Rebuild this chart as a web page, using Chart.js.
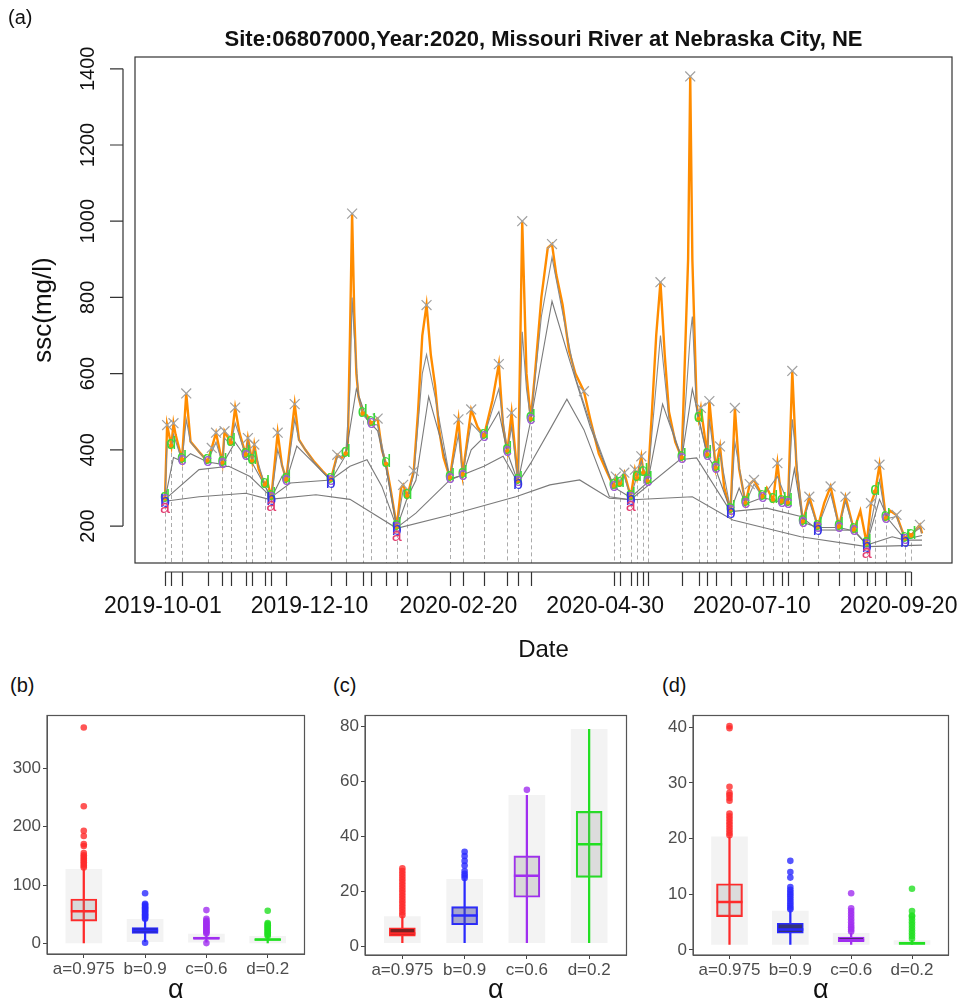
<!DOCTYPE html>
<html>
<head>
<meta charset="utf-8">
<script src="https://cdn.jsdelivr.net/npm/chart.js@4.4.1/dist/chart.umd.min.js"></script>
<style>
  body { margin: 0; background: #fff; font-family: "Liberation Sans", Arial, sans-serif; }
  #wrap { position: relative; width: 964px; height: 1001px; }
  canvas { position: absolute; }
  .tag { position: absolute; font-size: 20px; color: #111; }
</style>
</head>
<body>
<div id="wrap">
  <canvas id="a" width="964" height="670" style="left:0;top:0"></canvas>
  <canvas id="pb" width="320" height="301" style="left:0;top:700px"></canvas>
  <canvas id="pc" width="322" height="301" style="left:320px;top:700px"></canvas>
  <canvas id="pd" width="322" height="301" style="left:642px;top:700px"></canvas>
  <div class="tag" style="left:8px;top:6px">(a)</div>
  <div class="tag" style="left:10px;top:674px">(b)</div>
  <div class="tag" style="left:333px;top:674px">(c)</div>
  <div class="tag" style="left:662px;top:674px">(d)</div>
</div>
<script>
const FONT = '"Liberation Sans", Arial, sans-serif'

// ---- panel (a): daily ssc, days counted from 2019-10-01 ----
const mainTitle = 'Site:06807000,Year:2020, Missouri River at Nebraska City, NE'
const mainYTicks = [200, 400, 600, 800, 1000, 1200, 1400]
const dateLabels = ['2019-10-01', '2019-12-10', '2020-02-20', '2020-04-30', '2020-07-10', '2020-09-20']
// where the original figure puts its date labels (in day units)
const dateDays = [-1, 68, 138, 207, 276, 345]

const ssc = [[0,272],[1,465],[3,410],[4,470],[5,440],[8,374],[10,548],[12,422],[16,395],[20,370],[22,405],[24,445],[27,365],[28,449],[31,418],[33,511],[35,445],[38,387],[39,431],[41,370],[42,414],[44,350],[47,308],[48,320],[50,275],[53,445],[55,360],[57,322],[61,520],[63,427],[66,400],[70,370],[74,345],[78,322],[80,365],[81,387],[83,378],[85,390],[86,420],[87,700],[88,1020],[89,760],[90,600],[91,540],[93,495],[95,490],[97,470],[100,482],[102,400],[104,362],[106,300],[109,198],[111,300],[112,308],[114,278],[117,345],[119,500],[121,700],[123,780],[125,650],[127,570],[129,450],[131,380],[134,326],[138,480],[140,335],[144,506],[147,460],[150,436],[154,530],[157,625],[159,460],[161,396],[163,497],[166,318],[167,650],[168,1000],[169,800],[170,600],[172,480],[174,600],[177,800],[180,930],[182,940],[184,860],[187,780],[190,660],[193,600],[197,554],[200,480],[204,390],[208,340],[211,304],[212,330],[214,310],[216,340],[219,277],[221,348],[222,325],[224,383],[225,340],[227,317],[229,500],[231,700],[233,840],[235,650],[237,500],[240,420],[243,379],[246,900],[247,1380],[248,900],[250,520],[251,480],[252,510],[255,387],[256,528],[259,352],[261,409],[263,300],[266,242],[268,510],[270,350],[273,260],[275,310],[277,321],[279,300],[281,277],[283,300],[286,268],[288,365],[290,264],[291,275],[293,260],[295,607],[297,350],[300,211],[303,277],[307,198],[310,260],[313,304],[317,198],[320,277],[324,189],[327,240],[330,154],[332,260],[334,290],[336,361],[339,220],[341,240],[344,229],[348,167],[350,180],[351,175],[353,190],[355,203],[356,181]]

// baseflow-like curves for each alpha (d = 0.2 closest to ssc, a = 0.975 smoothest)
const curveD = [[0,270],[1,420],[3,405],[4,440],[8,372],[10,480],[12,420],[20,369],[24,420],[27,364],[28,430],[31,415],[33,470],[38,385],[39,420],[41,368],[42,400],[47,306],[50,274],[53,400],[57,320],[61,480],[63,425],[70,368],[78,320],[81,380],[85,388],[87,560],[88,800],[89,700],[91,540],[93,492],[97,468],[100,465],[104,360],[109,197],[112,295],[114,276],[117,335],[121,600],[123,650],[127,540],[134,325],[138,440],[140,334],[144,470],[150,434],[157,560],[161,394],[163,460],[166,316],[168,710],[170,560],[172,478],[177,750],[182,905],[187,760],[193,590],[200,470],[211,303],[216,330],[219,276],[224,370],[227,316],[233,700],[237,480],[243,378],[247,700],[248,750],[250,500],[251,478],[255,386],[256,480],[259,350],[261,390],[266,241],[268,420],[273,259],[277,310],[281,276],[288,330],[293,259],[295,480],[300,210],[303,265],[307,197],[313,285],[317,197],[320,265],[324,188],[330,153],[336,320],[339,219],[344,225],[348,166],[355,195],[356,180]]
const curveC = [[0,270],[4,380],[8,370],[12,390],[20,368],[27,362],[33,420],[38,380],[41,366],[47,305],[50,273],[55,330],[57,318],[62,410],[70,365],[78,319],[85,386],[90,560],[95,480],[100,450],[104,350],[109,196],[114,275],[118,320],[124,540],[130,420],[134,324],[140,333],[144,400],[150,433],[157,500],[161,393],[166,315],[172,477],[182,790],[190,640],[200,460],[211,302],[219,275],[227,315],[234,520],[243,377],[248,560],[255,385],[259,349],[266,240],[270,300],[273,258],[281,275],[293,258],[296,350],[300,210],[307,196],[317,196],[324,187],[330,152],[336,270],[340,219],[348,165],[356,175]]
const curveB = [[0,270],[16,348],[30,357],[40,330],[50,276],[59,313],[78,321],[87,357],[95,374],[102,304],[109,196],[118,234],[134,321],[150,357],[159,383],[166,313],[172,365],[181,453],[189,533],[197,453],[209,277],[219,269],[242,374],[250,379],[266,238],[283,247],[299,225],[307,190],[324,189],[330,150],[342,172],[348,163],[356,163]]
const curveA = [[0,265],[16,277],[38,286],[49,270],[71,282],[87,270],[109,194],[134,229],[165,277],[181,308],[195,321],[209,273],[220,269],[248,277],[267,216],[299,172],[330,146],[356,150]]

const peaks = [[1,465],[4,470],[10,548],[22,405],[24,445],[28,449],[33,511],[39,431],[42,414],[53,445],[61,520],[81,387],[88,1020],[100,482],[112,308],[117,345],[123,780],[138,480],[144,506],[157,625],[163,497],[168,1000],[182,940],[197,554],[212,330],[216,340],[221,348],[224,383],[233,840],[247,1380],[252,510],[256,528],[261,409],[268,510],[275,310],[277,321],[288,365],[295,607],[303,277],[313,304],[320,277],[332,260],[336,361],[344,229],[355,203]]

// trough events: day, ssc, lowest alpha letter reached
const troughs = [[0,272,'a'],[3,410,'d'],[8,374,'c'],[20,370,'c'],[27,365,'c'],[31,418,'d'],[38,387,'c'],[41,370,'d'],[47,308,'d'],[50,275,'a'],[57,322,'c'],[78,322,'b'],[85,390,'d'],[93,495,'d'],[97,470,'c'],[104,362,'d'],[109,198,'a'],[114,278,'d'],[134,326,'c'],[140,335,'c'],[150,436,'c'],[161,396,'c'],[166,318,'b'],[172,480,'c'],[211,304,'c'],[214,310,'d'],[219,277,'a'],[222,325,'d'],[225,340,'d'],[227,317,'c'],[243,379,'c'],[251,480,'d'],[255,387,'c'],[259,352,'c'],[266,242,'b'],[273,260,'c'],[281,277,'c'],[286,268,'d'],[290,264,'c'],[293,260,'c'],[300,211,'c'],[307,198,'b'],[317,198,'c'],[324,189,'c'],[330,154,'a'],[334,290,'d'],[339,220,'c'],[348,167,'b'],[351,175,'d']]

const letterColors = { a: '#e23a6e', b: '#3434e6', c: '#9d5fd4', d: '#3ad83a' }
const letterShift = { a: 9, b: 3, c: 0, d: -2 }
const levels = ['a', 'b', 'c', 'd']

const xy = (arr) => arr.map(([x, y]) => ({ x, y }))

const rStyle = {
  id: 'rStyle',
  beforeDatasetsDraw(chart) {
    const { ctx, chartArea: area, scales: { x, y } } = chart
    ctx.save()
    ctx.strokeStyle = '#ababab'
    ctx.lineWidth = 1
    ctx.setLineDash([4, 3])
    troughs.forEach(([d, v]) => {
      const px = Math.round(x.getPixelForValue(d)) + 0.5
      ctx.beginPath()
      ctx.moveTo(px, y.getPixelForValue(v) + 7)
      ctx.lineTo(px, area.bottom)
      ctx.stroke()
    })
    ctx.restore()
  },
  afterDatasetsDraw(chart) {
    const { ctx, scales: { x, y } } = chart
    ctx.save()
    ctx.font = '18px ' + FONT
    ctx.textAlign = 'center'
    ctx.textBaseline = 'middle'
    troughs.forEach(([d, v, lvl]) => {
      const px = x.getPixelForValue(d)
      const py = y.getPixelForValue(v)
      levels.slice(levels.indexOf(lvl)).reverse().forEach(l => {
        ctx.fillStyle = letterColors[l]
        ctx.fillText(l, px, py + letterShift[l])
      })
    })
    ctx.restore()
  },
  afterDraw(chart) {
    const { ctx, chartArea: area, scales: { x, y } } = chart
    ctx.save()
    ctx.strokeStyle = '#333'
    ctx.lineWidth = 1.2
    ctx.strokeRect(area.left, area.top, area.right - area.left, area.bottom - area.top)

    // left axis, R style (detached from the box)
    const ax = area.left - 12
    ctx.beginPath()
    ctx.moveTo(ax, y.getPixelForValue(mainYTicks[0]))
    ctx.lineTo(ax, y.getPixelForValue(mainYTicks[mainYTicks.length - 1]))
    mainYTicks.forEach(v => {
      const py = y.getPixelForValue(v)
      ctx.moveTo(ax, py)
      ctx.lineTo(ax - 13, py)
    })
    ctx.stroke()
    ctx.fillStyle = '#111'
    ctx.font = '20px ' + FONT
    ctx.textAlign = 'center'
    ctx.textBaseline = 'middle'
    mainYTicks.forEach(v => {
      ctx.save()
      ctx.translate(88, y.getPixelForValue(v))
      ctx.rotate(-Math.PI / 2)
      ctx.fillText(String(v), 0, 0)
      ctx.restore()
    })
    ctx.save()
    ctx.translate(44, (area.top + area.bottom) / 2)
    ctx.rotate(-Math.PI / 2)
    ctx.font = '26px ' + FONT
    ctx.fillText('ssc(mg/l)', 0, 0)
    ctx.restore()

    // rug of event dates
    const ry = area.bottom + 9
    const days = troughs.map(t => t[0])
    ctx.beginPath()
    ctx.moveTo(x.getPixelForValue(days[0]), ry)
    ctx.lineTo(x.getPixelForValue(days[days.length - 1]), ry)
    days.forEach(d => {
      const px = Math.round(x.getPixelForValue(d)) + 0.5
      ctx.moveTo(px, ry)
      ctx.lineTo(px, ry + 14)
    })
    ctx.stroke()

    ctx.font = '23px ' + FONT
    dateLabels.forEach((lab, i) => ctx.fillText(lab, x.getPixelForValue(dateDays[i]), 607))
    ctx.font = '24px ' + FONT
    ctx.fillText('Date', (area.left + area.right) / 2, 650)

    ctx.font = 'bold 22px ' + FONT
    ctx.fillText(mainTitle, (area.left + area.right) / 2, 40)
    ctx.restore()
  }
}

new Chart(document.getElementById('a'), {
  type: 'line',
  data: {
    datasets: [
      { data: xy(peaks), showLine: false, pointStyle: 'crossRot', pointRadius: 7, borderColor: '#a0a0a0', borderWidth: 1.2, order: 1 },
      { data: xy(troughs.map(t => [t[0], t[1]])), showLine: false, pointRadius: 2.5, backgroundColor: '#ff8c00', borderWidth: 0, order: 2 },
      { data: xy(curveA), borderColor: '#7a7a7a', borderWidth: 1.1, pointRadius: 0, order: 3 },
      { data: xy(curveB), borderColor: '#7a7a7a', borderWidth: 1.1, pointRadius: 0, order: 3 },
      { data: xy(curveC), borderColor: '#7a7a7a', borderWidth: 1.1, pointRadius: 0, order: 3 },
      { data: xy(curveD), borderColor: '#8a8a8a', borderWidth: 1.1, pointRadius: 0, order: 3 },
      { data: xy(ssc), borderColor: '#ff8c00', borderWidth: 2.4, pointRadius: 0, order: 6 }
    ]
  },
  options: {
    responsive: false,
    animation: false,
    layout: { padding: { left: 135, top: 57, right: 12, bottom: 107 } },
    plugins: { legend: { display: false }, tooltip: { enabled: false } },
    scales: {
      x: { type: 'linear', min: -14.1, max: 370.1, display: false },
      y: { type: 'linear', min: 103, max: 1431, display: false }
    }
  },
  plugins: [rStyle]
})

// ---- panels (b)-(d): boxplots by alpha ----
const alphaCats = ['a=0.975', 'b=0.9', 'c=0.6', 'd=0.2']
const alphaColors = ['#ff2a2a', '#2a2aff', '#a02ef0', '#22e022']

const bTicks = [0, 100, 200, 300]
const bQ1 = [38, 17, 7, 5]
const bMed = [55, 22, 9, 6.5]
const bQ3 = [76, 27, 11, 8]
const bLo = [1, 3, 2, 1]
const bHi = [127, 41, 16, 12]
const bOut = [
  [130, 133, 136, 139, 142, 145, 148, 151, 155, 167, 170, 184, 193, 235, 370],
  [1, 42, 44, 46, 48, 50, 52, 54, 56, 58, 60, 62, 64, 66, 68, 86],
  [0.5, 17, 19, 21, 23, 25, 27, 29, 31, 33, 35, 37, 39, 42, 57],
  [13, 15, 17, 19, 21, 23, 25, 27, 29, 31, 33, 35, 56]
]

const cTicks = [0, 20, 40, 60, 80]
const cQ1 = [3.9, 8.0, 18, 25.2]
const cMed = [4.8, 11.4, 25.8, 37.2]
const cQ3 = [6.9, 14.6, 33, 49.2]
const cLo = [1.5, 1.5, 1.5, 1.5]
const cHi = [11, 24.5, 55, 79]
const cOut = [
  [11.5, 12.5, 13.5, 14.5, 15.5, 16.5, 17.5, 18.5, 19.5, 20.5, 21.5, 22.5, 23.5, 24.5, 25.5, 26.5, 27.5, 28.5],
  [25, 25.8, 26.5, 27.5, 29.5, 31.2, 33, 34.5],
  [57],
  []
]

const dTicks = [0, 10, 20, 30, 40]
const dQ1 = [6.0, 3.0, 1.5, 1.0]
const dMed = [8.6, 3.7, 1.8, 1.2]
const dQ3 = [11.9, 4.8, 2.3, 1.4]
const dLo = [1, 1, 1, 1]
const dHi = [20.3, 7, 3, 1.7]
const dOut = [
  [20.6, 21, 21.5, 22, 22.5, 23, 23.5, 24, 24.5, 26.8, 27.3, 27.8, 28.2, 29.3, 39.8, 40.2],
  [7.3, 7.6, 8, 8.4, 8.8, 9.2, 9.6, 10, 10.4, 10.8, 11.3, 13, 14, 16],
  [3.3, 3.7, 4.1, 4.5, 5, 5.5, 6, 6.5, 7, 7.5, 10.2],
  [2, 2.5, 3, 3.5, 4, 4.5, 5, 5.5, 6, 6.2, 7, 11]
]

const frame = {
  id: 'frame',
  afterDraw(chart) {
    const { ctx, chartArea: a } = chart
    ctx.save()
    ctx.strokeStyle = '#555'
    ctx.lineWidth = 1.2
    ctx.strokeRect(a.left, a.top, a.right - a.left, a.bottom - a.top)
    ctx.restore()
  }
}

function boxPanel(id, p) {
  const at = (arr) => arr.map((v, i) => ({ x: i, y: v }))
  const span = (lo, hi) => lo.map((v, i) => ({ x: i, y: [v, hi[i]] }))
  return new Chart(document.getElementById(id), {
    type: 'bar',
    data: {
      datasets: [
        { data: span(p.lo, p.hi), backgroundColor: 'rgba(90,90,90,0.07)', barThickness: 36, grouped: false, order: 6 },
        { data: span(p.lo, p.hi), backgroundColor: alphaColors, barThickness: 1.6, grouped: false, order: 5 },
        { data: span(p.q1, p.q3), backgroundColor: p.fills, borderColor: alphaColors, borderWidth: 1.5, borderSkipped: false, barThickness: 26, grouped: false, order: 4 },
        { type: 'scatter', data: at(p.med), pointStyle: 'line', pointRadius: 13, borderColor: alphaColors, borderWidth: 2.5, order: 3 },
        {
          type: 'scatter',
          data: p.out.flatMap((vals, i) => vals.map(v => ({ x: i, y: v }))),
          pointRadius: 3.3,
          borderWidth: 0,
          backgroundColor: (c) => alphaColors[c.raw ? c.raw.x : 0] + 'cc',
          order: 2
        }
      ]
    },
    options: {
      responsive: false,
      animation: false,
      layout: { padding: p.pad },
      plugins: { legend: { display: false }, tooltip: { enabled: false } },
      scales: {
        x: {
          type: 'linear', min: -0.6, max: 3.6, offset: false,
          afterBuildTicks: (s) => { s.ticks = alphaCats.map((c, i) => ({ value: i })) },
          afterFit: (s) => { s.height = p.xh },
          ticks: { callback: (v) => alphaCats[v], autoSkip: false, maxRotation: 0, color: '#4d4d4d', font: { size: 17, family: FONT }, padding: 1 },
          grid: { drawOnChartArea: false, tickLength: 4, color: '#444', offset: false },
          border: { color: '#555' },
          title: { display: true, text: 'α', color: '#111', font: { size: 27, family: FONT, lineHeight: 0.75 }, padding: { top: 0, bottom: 0 } }
        },
        y: {
          type: 'linear', min: p.yMin, max: p.yMax,
          afterBuildTicks: (s) => { s.ticks = p.ticks.map(v => ({ value: v })) },
          afterFit: (s) => { s.width = p.yw },
          ticks: { color: '#4d4d4d', font: { size: 17, family: FONT }, padding: 2 },
          grid: { drawOnChartArea: false, tickLength: 4, color: '#444' },
          border: { color: '#555' }
        }
      }
    },
    plugins: [frame]
  })
}

boxPanel('pb', {
  q1: bQ1, med: bMed, q3: bQ3, lo: bLo, hi: bHi, out: bOut, ticks: bTicks,
  yMin: -18.2, yMax: 390.5, pad: { top: 13, right: 14, left: 0, bottom: 0 }, yw: 47, xh: 47,
  fills: ['rgba(140,140,140,0.25)', '#262670', '#2a1638', '#123012']
})
boxPanel('pc', {
  q1: cQ1, med: cMed, q3: cQ3, lo: cLo, hi: cHi, out: cOut, ticks: cTicks,
  yMin: -2.98, yMax: 84.0, pad: { top: 13, right: 7, left: 0, bottom: 0 }, yw: 45, xh: 46,
  fills: ['#7a2222', 'rgba(70,70,160,0.45)', 'rgba(140,140,140,0.25)', 'rgba(140,140,140,0.22)']
})
boxPanel('pd', {
  q1: dQ1, med: dMed, q3: dQ3, lo: dLo, hi: dHi, out: dOut, ticks: dTicks,
  yMin: -0.9, yMax: 42.1, pad: { top: 15, right: 2, left: 0, bottom: 0 }, yw: 51, xh: 46,
  fills: ['rgba(140,140,140,0.22)', '#333378', '#1c1c1c', '#111111']
})
</script>
</body>
</html>
